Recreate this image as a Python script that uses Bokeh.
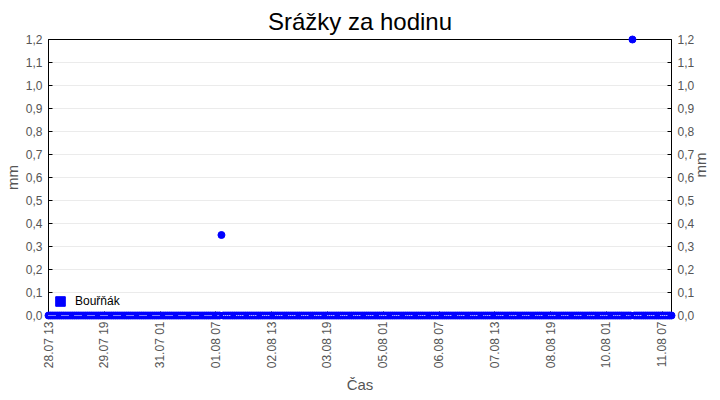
from datetime import datetime, timedelta
from bokeh.plotting import figure
from bokeh.models import (FixedTicker, DatetimeTickFormatter, CustomJSTickFormatter,
                          LinearAxis, Legend, LegendItem, Range1d, ColumnDataSource)
from bokeh.embed import file_html
from bokeh.resources import INLINE
from math import pi

# ---- data ----
series_name = "Bouřňák"
start_time = "2024-07-28 13:00"
end_time = "2024-08-11 12:00"
# hourly precipitation (mm), one row per day
day_0728 = [0, 0, 0, 0, 0, 0, 0, 0, 0, 0, 0]            # 13..23
day_0729 = [0, 0, 0, 0, 0, 0, 0, 0, 0, 0, 0, 0, 0, 0, 0, 0, 0, 0, 0, 0, 0, 0, 0, 0]
day_0730 = [0, 0, 0, 0, 0, 0, 0, 0, 0, 0, 0, 0, 0, 0, 0, 0, 0, 0, 0, 0, 0, 0, 0, 0]
day_0731 = [0, 0, 0, 0, 0, 0, 0, 0, 0, 0, 0, 0, 0, 0, 0, 0, 0, 0, 0, 0, 0, 0, 0, 0]
day_0801 = [0, 0, 0, 0, 0, 0, 0, 0, 0, 0, 0.35, 0, 0, 0, 0, 0, 0, 0, 0, 0, 0, 0, 0, 0]
day_0802 = [0, 0, 0, 0, 0, 0, 0, 0, 0, 0, 0, 0, 0, 0, 0, 0, 0, 0, 0, 0, 0, 0, 0, 0]
day_0803 = [0, 0, 0, 0, 0, 0, 0, 0, 0, 0, 0, 0, 0, 0, 0, 0, 0, 0, 0, 0, 0, 0, 0, 0]
day_0804 = [0, 0, 0, 0, 0, 0, 0, 0, 0, 0, 0, 0, 0, 0, 0, 0, 0, 0, 0, 0, 0, 0, 0, 0]
day_0805 = [0, 0, 0, 0, 0, 0, 0, 0, 0, 0, 0, 0, 0, 0, 0, 0, 0, 0, 0, 0, 0, 0, 0, 0]
day_0806 = [0, 0, 0, 0, 0, 0, 0, 0, 0, 0, 0, 0, 0, 0, 0, 0, 0, 0, 0, 0, 0, 0, 0, 0]
day_0807 = [0, 0, 0, 0, 0, 0, 0, 0, 0, 0, 0, 0, 0, 0, 0, 0, 0, 0, 0, 0, 0, 0, 0, 0]
day_0808 = [0, 0, 0, 0, 0, 0, 0, 0, 0, 0, 0, 0, 0, 0, 0, 0, 0, 0, 0, 0, 0, 0, 0, 0]
day_0809 = [0, 0, 0, 0, 0, 0, 0, 0, 0, 0, 0, 0, 0, 0, 0, 0, 0, 0, 0, 0, 0, 0, 0, 0]
day_0810 = [0, 0, 0, 0, 0, 0, 0, 0, 0, 0, 0, 0, 0, 0, 0, 1.2, 0, 0, 0, 0, 0, 0, 0, 0]
day_0811 = [0, 0, 0, 0, 0, 0, 0, 0, 0, 0, 0, 0, 0]       # 00..12
x_tick_times = ["2024-07-28 13:00", "2024-07-29 19:00", "2024-07-31 01:00",
                "2024-08-01 07:00", "2024-08-02 13:00", "2024-08-03 19:00",
                "2024-08-05 01:00", "2024-08-06 07:00", "2024-08-07 13:00",
                "2024-08-08 19:00", "2024-08-10 01:00", "2024-08-11 07:00"]
y_ticks = [0.0, 0.1, 0.2, 0.3, 0.4, 0.5, 0.6, 0.7, 0.8, 0.9, 1.0, 1.1, 1.2]

values = (day_0728 + day_0729 + day_0730 + day_0731 + day_0801 + day_0802 + day_0803 +
          day_0804 + day_0805 + day_0806 + day_0807 + day_0808 + day_0809 + day_0810 + day_0811)
fmt = "%Y-%m-%d %H:%M"
t0 = datetime.strptime(start_time, fmt)
t1 = datetime.strptime(end_time, fmt)
times = [t0 + timedelta(hours=i) for i in range(len(values))]
epoch = datetime(1970, 1, 1)
def ms(t):
    return (t - epoch).total_seconds() * 1000.0

src = ColumnDataSource(dict(t=times, v=values,
                            z=[v if v == 0 else float("nan") for v in values]))

FONT = "Liberation Sans"
GREY = "#555555"

p = figure(frame_width=623, frame_height=276, output_backend="svg", toolbar_location=None,
           x_axis_type="datetime", x_range=Range1d(t0, t1), y_range=Range1d(0, 1.2),
           title="Srážky za hodinu",
           min_border_left=0, min_border_right=0, min_border_top=0, min_border_bottom=0)
p.title.align = "center"
p.title.text_font = FONT
p.title.text_font_size = "24px"
p.title.text_font_style = "normal"
p.title.text_color = "black"
p.title.standoff = 10

p.outline_line_color = "black"
p.outline_line_width = 1
p.xgrid.visible = False
p.ygrid.grid_line_color = "#ebebeb"
p.ygrid.ticker = FixedTicker(ticks=y_ticks)

xa = p.xaxis[0]
xa.ticker = FixedTicker(ticks=[ms(datetime.strptime(s, fmt)) for s in x_tick_times])
xa.formatter = DatetimeTickFormatter(hours="%d.%m %H", days="%d.%m %H", hourmin="%d.%m %H",
                                     minutes="%d.%m %H", months="%d.%m %H", minsec="%d.%m %H")
xa.major_label_orientation = pi / 2
xa.axis_label = "Čas"

ya = p.yaxis[0]
ya.ticker = FixedTicker(ticks=y_ticks)
ya.formatter = CustomJSTickFormatter(code="return tick.toFixed(1).replace('.', ',');")
ya.axis_label = "mm"

ra = LinearAxis(y_range_name="default", ticker=FixedTicker(ticks=y_ticks),
                formatter=CustomJSTickFormatter(code="return tick.toFixed(1).replace('.', ',');"),
                axis_label="mm")
p.add_layout(ra, "right")

for ax in [xa, ya, ra]:
    ax.axis_line_color = "black"
    ax.major_tick_line_color = "black"
    ax.major_tick_in = 4
    ax.major_tick_out = 0
    ax.minor_tick_line_color = None
    ax.major_label_text_font = FONT
    ax.major_label_text_font_size = "12px"
    ax.major_label_text_color = GREY
    ax.axis_label_text_font = FONT
    ax.axis_label_text_font_size = "15px"
    ax.axis_label_text_font_style = "normal"
    ax.axis_label_text_color = GREY
    ax.major_label_standoff = 6
    ax.axis_label_standoff = 3
xa.axis_label_standoff = 5
ya.axis_label_standoff = 2
ra.axis_label_orientation = pi / 2

r = p.scatter("t", "v", source=src, marker="circle", size=7, fill_color="blue",
              line_color="blue", line_width=1)
r.level = "overlay"
dots = p.line("t", "z", source=src, line_color="white", line_width=1,
              line_dash="1 1 1 1 1 1 1 6")
dots.level = "overlay"

legend_src = ColumnDataSource(dict(l=[float("nan")], r=[float("nan")],
                                   b=[float("nan")], t=[float("nan")]))
sq = p.quad(left="l", right="r", bottom="b", top="t", source=legend_src,
            fill_color="blue", line_color="blue")
legend = Legend(items=[LegendItem(label=series_name, renderers=[sq])],
                location=(6, 7), border_line_alpha=0, background_fill_alpha=0,
                label_text_font=FONT, label_text_font_size="12px", label_text_color="black",
                glyph_width=12, glyph_height=12, padding=0, margin=0, spacing=0,
                label_standoff=9, label_height=12)
p.add_layout(legend, "center")

open("out.html", "w").write(file_html(p, INLINE))
